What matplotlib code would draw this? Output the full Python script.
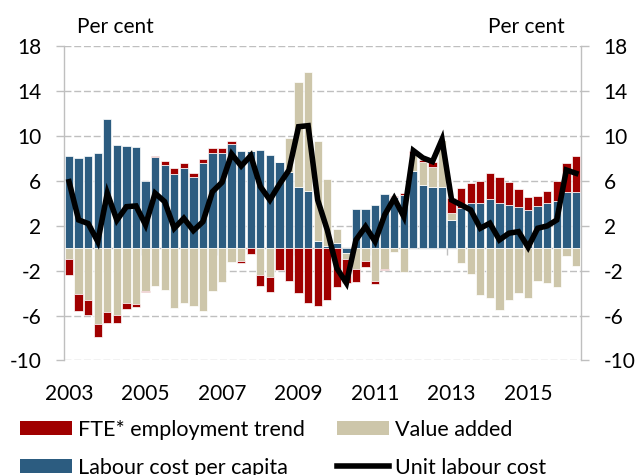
import matplotlib

matplotlib.use("Agg")

import matplotlib.pyplot as plt
import matplotlib.transforms as mtransforms
from matplotlib.lines import Line2D
from matplotlib.patches import Patch
import numpy as np
import pandas as pd

plt.rcParams["font.family"] = ["Lato", "DejaVu Sans"]

# Quarterly contributions to unit labour cost growth, per cent
quarters = pd.period_range("2003Q1", periods=54, freq="Q")

labour_cost = [8.25, 8.07, 8.19, 8.52, 11.48, 9.20, 9.14, 9.02, 6.02, 8.10,
               7.39, 6.62, 7.12, 6.38, 7.57, 8.46, 8.52, 9.32, 8.66, 8.70,
               8.72, 8.28, 7.72, 6.82, 5.43, 5.10, 0.68, 0.20, 0.47, -0.45,
               3.53, 3.53, 3.86, 4.81, 4.60, 4.78, 6.88, 5.64, 5.49, 5.49,
               2.52, 3.62, 4.00, 4.00, 4.39, 4.00, 3.86, 3.68, 3.41, 3.80,
               4.00, 4.24, 5.04, 4.99]
value_added = [-0.98, -4.09, -4.60, -6.74, -5.70, -5.93, -4.90, -4.96, -3.80, -3.35,
               -3.68, -5.34, -4.87, -5.19, -5.55, -3.77, -3.03, -1.19, -1.10, 0.05,
               -2.37, -2.58, 0.00, 3.03, 9.35, 10.63, 8.87, 5.97, 1.25, -0.53,
               -1.84, -1.10, -2.91, -1.84, -0.30, -2.08, 1.45, 2.08, 1.78, 4.15,
               0.60, -1.34, -2.28, -4.21, -4.45, -5.49, -4.60, -3.95, -4.45, -2.88,
               -3.06, -3.47, -0.65, -1.57]
fte_trend = [-1.39, -1.46, -1.39, -1.18, -0.92, -0.69, -0.50, -0.29, -0.09, 0.12,
             0.38, 0.50, 0.48, 0.36, 0.38, 0.44, 0.44, 0.23, -0.18, -0.53,
             -0.98, -1.34, -1.93, -2.88, -4.00, -4.90, -5.16, -4.63, -3.41, -2.10,
             -1.13, -0.53, -0.27, -0.09, 0.09, 0.15, 0.30, 0.14, 0.45, 0.00,
             1.33, 1.72, 1.85, 2.02, 2.29, 2.32, 2.07, 1.63, 1.16, 0.89,
             1.10, 1.78, 2.53, 3.23]
unit_labour_cost = [5.93, 2.52, 2.20, 0.60, 4.90, 2.50, 3.70, 3.77, 2.08, 4.90,
                    4.15, 1.78, 2.67, 1.57, 2.37, 5.04, 5.88, 8.40, 7.33, 8.25,
                    5.50, 4.30, 5.70, 6.97, 10.83, 10.92, 4.30, 1.63, -1.78, -3.10,
                    0.74, 1.93, 0.60, 2.97, 4.45, 2.82, 8.70, 8.05, 7.72, 9.70,
                    4.30, 3.86, 3.41, 1.78, 2.23, 0.74, 1.34, 1.48, 0.09, 1.78,
                    1.99, 2.52, 6.97, 6.68]

y_ticks = [-10, -6, -2, 2, 6, 10, 14, 18]

BLUE = "#2C5C80"
RED = "#A00000"
BEIGE = "#CDC6AA"
GREY = "#BFBFBF"

fig = plt.figure(figsize=(6.37, 4.75), dpi=100)
ax = fig.add_axes([0.1009, 0.2411, 0.8107, 0.6616])

x = np.arange(len(quarters))
pos_base = np.zeros(len(x))
neg_base = np.zeros(len(x))
# stack order: labour cost, value added, employment
for values, color in [(labour_cost, BLUE), (value_added, BEIGE), (fte_trend, RED)]:
    values = np.asarray(values)
    bottom = np.where(values >= 0, pos_base, neg_base)
    ax.bar(x, values, width=0.87, bottom=bottom, color=color,
           edgecolor="white", linewidth=0.5, zorder=3)
    pos_base = pos_base + np.clip(values, 0, None)
    neg_base = neg_base + np.clip(values, None, 0)

ax.plot(x, unit_labour_cost, color="black", linewidth=4.0,
        solid_joinstyle="miter", zorder=4)

ax.axhline(0, color=GREY, linewidth=1.0, zorder=1)
ax.vlines(np.arange(8, len(x), 8) - 0.5, -0.6, 0, color=GREY, linewidth=1.0, zorder=1)

ax.set_xlim(-0.5, len(x) - 0.5)
ax.set_ylim(-10, 18)
ax.set_xticks([])
ax.set_yticks(y_ticks)
ax.set_yticklabels([str(t) for t in y_ticks], fontsize=15)
ax.tick_params(axis="y", which="both", left=True, right=True, labelleft=True,
               labelright=True, direction="out", length=6, width=1.0,
               color=GREY, pad=10.5)
ax.grid(True, axis="y", color=GREY, linewidth=1.0, linestyle=(0, (5, 2)), zorder=0)
ax.set_axisbelow(True)
for side in ["top", "bottom"]:
    ax.spines[side].set_visible(False)
for side in ["left", "right"]:
    ax.spines[side].set_color(GREY)
    ax.spines[side].set_linewidth(1.0)

# year labels under the first quarter of every second year
year_trans = mtransforms.blended_transform_factory(ax.transData, fig.transFigure)
for i, q in enumerate(quarters):
    if q.quarter == 1 and q.year % 2 == 1:
        ax.text(i, 0.158, str(q.year), transform=year_trans,
                ha="center", va="baseline", fontsize=15, clip_on=False)

fig.text(0.1813, 0.9305, "Per cent", ha="center", va="baseline", fontsize=15)
fig.text(0.8258, 0.9305, "Per cent", ha="center", va="baseline", fontsize=15)

handles = [
    Patch(facecolor=RED, edgecolor="none"),
    Patch(facecolor=BLUE, edgecolor="none"),
    Patch(facecolor=BEIGE, edgecolor="none"),
    Line2D([0], [0], color="black", linewidth=4.0),
]
labels = ["FTE* employment trend", "Labour cost per capita", "Value added", "Unit labour cost"]
fig.legend(handles, labels, loc="upper left", bbox_to_anchor=(0.0314, 0.1168),
           ncol=2, frameon=False, fontsize=15.5, handlelength=2.42,
           handleheight=0.64, handletextpad=0.26, columnspacing=1.5,
           labelspacing=0.84, borderpad=0, borderaxespad=0)

fig.savefig("out.png", dpi=100)
